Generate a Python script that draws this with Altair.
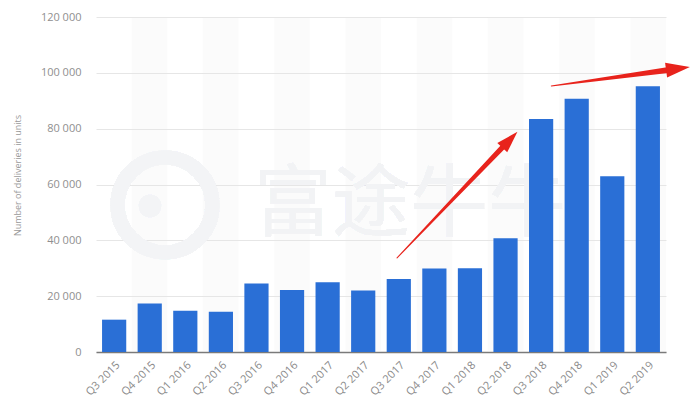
import math
import altair as alt
import pandas as pd

# ---- data ----
quarters = ["Q3 2015", "Q4 2015", "Q1 2016", "Q2 2016", "Q3 2016", "Q4 2016",
            "Q1 2017", "Q2 2017", "Q3 2017", "Q4 2017", "Q1 2018", "Q2 2018",
            "Q3 2018", "Q4 2018", "Q1 2019", "Q2 2019"]
deliveries = [11580, 17400, 14820, 14400, 24500, 22200, 25000, 22000,
              26150, 29870, 29980, 40740, 83500, 90700, 63000, 95200]
y_ticks = [0, 20000, 40000, 60000, 80000, 100000, 120000]
y_title = "Number of deliveries in units"

# annotation arrows (x in category-slot units, y in deliveries)
arrow_ids = ["a1", "a2"]
arrow_tail_x = [8.45, 12.78]
arrow_tail_y = [33700, 95300]
arrow_tip_x = [11.83, 16.67]
arrow_tip_y = [78900, 102100]
arrow_width = [5.5, 6.0]
arrow_head = [22, 24]

watermark = "富途牛牛"

# ---- layout ----
W, H = 570, 335
N = len(quarters)
px_x = W / N
px_y = H / 120000

bars_df = pd.DataFrame({"quarter": quarters, "deliveries": deliveries})
bg_df = pd.DataFrame({"x": [i for i in range(N) if i % 2 == 1]})
bg_df["x2"] = bg_df["x"] + 1

trail_rows, head_rows = [], []
for aid, tx, ty, hx, hy, w, hl in zip(arrow_ids, arrow_tail_x, arrow_tail_y,
                                      arrow_tip_x, arrow_tip_y, arrow_width, arrow_head):
    dxp = (hx - tx) * px_x
    dyp = (hy - ty) * px_y
    L = math.hypot(dxp, dyp)
    ux, uy = dxp / L, dyp / L
    ang = math.degrees(math.atan2(dxp, dyp))
    ex = hx - ux * hl * 0.75 / px_x
    ey = hy - uy * hl * 0.75 / px_y
    trail_rows.append({"arrow": aid, "seq": 0, "x": tx, "y": ty, "w": 1.0})
    trail_rows.append({"arrow": aid, "seq": 1, "x": ex, "y": ey, "w": w})
    cx = hx - ux * hl / 2 / px_x
    cy = hy - uy * hl / 2 / px_y
    head_rows.append({"arrow": aid, "x": cx, "y": cy, "angle": ang, "size": hl * hl})
trail_df = pd.DataFrame(trail_rows)
head_df = pd.DataFrame(head_rows)

xq = alt.Scale(domain=[0, N], nice=False, zero=False)
yscale = alt.Scale(domain=[0, 120000], nice=False)

background = alt.Chart(bg_df).mark_rect(fill="#e4e4e4", opacity=0.16).encode(
    x=alt.X("x:Q", scale=xq, axis=None),
    x2="x2",
    y=alt.value(0),
    y2=alt.value(H),
)

wm_circle = alt.Chart(bars_df).mark_point(
    shape="circle", filled=False, color="#f3f4f6", strokeWidth=14, opacity=1, size=9000
).encode(x=alt.value(165 - 96), y=alt.value(205 - 17))

wm_dot = alt.Chart(bars_df).mark_point(
    shape="circle", filled=True, color="#f3f4f6", opacity=1, size=500
).encode(x=alt.value(150 - 96), y=alt.value(206 - 17))

wm_text = alt.Chart(bars_df).mark_text(
    text=watermark, font="Noto Sans CJK SC", fontSize=78, color="#f2f3f5",
    align="center", baseline="middle"
).encode(x=alt.value(410 - 96), y=alt.value(207 - 17))

bars = alt.Chart(bars_df).mark_bar(color="#2a6fd6").encode(
    x=alt.X("quarter:N", sort=quarters,
            scale=alt.Scale(paddingInner=0.32, paddingOuter=0.17),
            axis=alt.Axis(title=None, labelAngle=-45, labelFontSize=11,
                          labelColor="#8a8a8a", labelFont="Open Sans",
                          ticks=False, labelPadding=7, domainColor="#7a7a7a",
                          domainWidth=1.5, grid=False)),
    y=alt.Y("deliveries:Q", scale=yscale, title=y_title,
            axis=alt.Axis(values=y_ticks, title=y_title,
                          titleFontSize=9, titleFontWeight="normal",
                          titleColor="#9a9a9a", titleFont="Open Sans",
                          titleX=-74, titleY=158,
                          labelFontSize=11, labelColor="#8f8f8f",
                          labelFont="Open Sans", labelPadding=15,
                          labelExpr="replace(datum.label, ',', ' ')",
                          ticks=False, domain=False, gridColor="#e6e6e6",
                          gridWidth=1)),
)

trail = alt.Chart(trail_df).mark_trail(color="#e8231c").encode(
    x=alt.X("x:Q", scale=xq, axis=None),
    y=alt.Y("y:Q", scale=yscale, title=y_title),
    detail="arrow:N",
    order="seq:Q",
    size=alt.Size("w:Q", scale=None, legend=None),
)

heads = alt.Chart(head_df).mark_point(
    shape="M0,-1L0.62,1L-0.62,1Z", filled=True, color="#e8231c", opacity=1
).encode(
    x=alt.X("x:Q", scale=xq, axis=None),
    y=alt.Y("y:Q", scale=yscale, title=y_title),
    angle=alt.Angle("angle:Q", scale=None),
    size=alt.Size("size:Q", scale=None, legend=None),
)

chart = alt.layer(background, wm_circle, wm_dot, wm_text, bars, trail, heads).resolve_scale(
    x="independent"
).properties(
    width=W, height=H,
    autosize=alt.AutoSizeParams(type="none"),
    padding={"left": 88, "top": 9, "right": 26, "bottom": 51},
).configure_view(stroke=None)

chart.save("out.html", embed_options={"renderer": "svg", "actions": False})
